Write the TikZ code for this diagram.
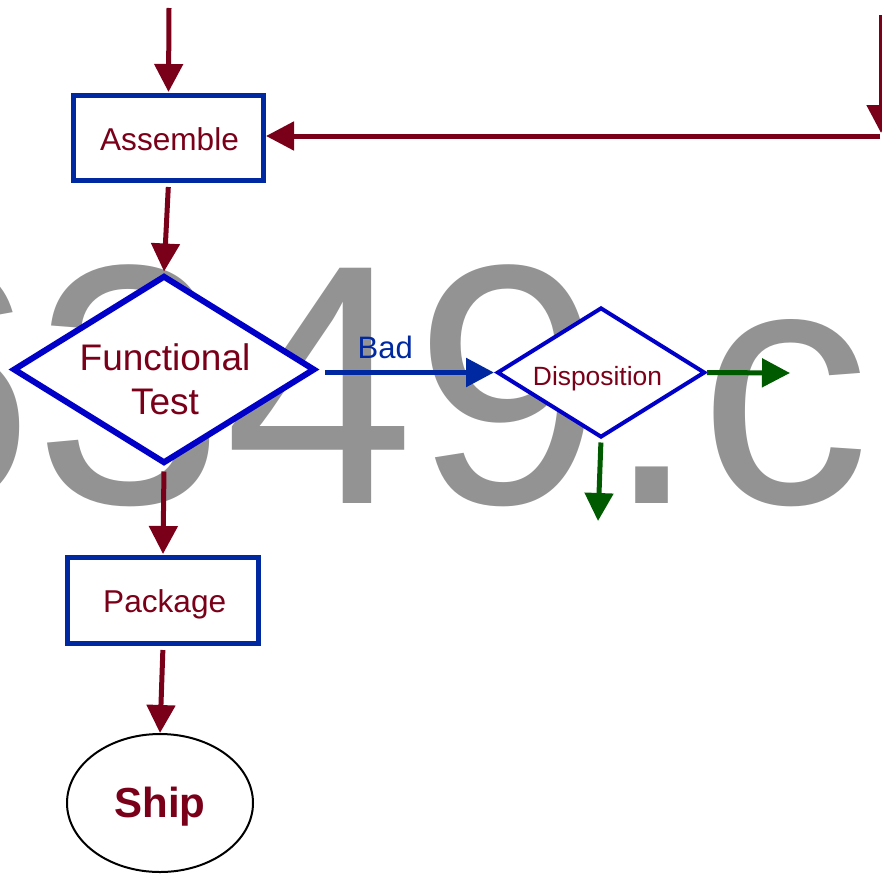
\documentclass[tikz,border=0pt]{standalone}
\usepackage{fontspec}
\setmainfont{Liberation Sans}
\usetikzlibrary{arrows.meta,shapes.geometric}
\definecolor{ink}{RGB}{122,0,26}
\definecolor{boxblue}{RGB}{0,40,160}
\definecolor{diablue}{RGB}{0,0,200}
\definecolor{okgreen}{RGB}{0,90,0}
\definecolor{wmgray}{RGB}{147,147,147}
\begin{document}
\begin{tikzpicture}[x=1pt,y=-1pt,
  box/.style={rectangle, draw=boxblue, line width=5pt, fill=white, inner sep=0pt},
  dia/.style={diamond, draw=diablue, fill=white, inner sep=0pt},
  lbl/.style={text=ink, inner sep=0pt, text depth=0pt},
  tip/.style={-{Triangle[length=28pt,width=28pt]}},
  flow/.style={draw=ink, line width=5pt, tip},
  gflow/.style={draw=okgreen, line width=5pt, tip},
  bflow/.style={draw=boxblue, line width=5.5pt, tip}]
\useasboundingbox (0,0) rectangle (882,875);

% watermark
\node[anchor=base west, inner sep=0pt, text=wmgray] (wm) at (-156,503)
  {\fontsize{342}{342}\selectfont 6349.c};

% shapes
\node[box, minimum width=190pt, minimum height=85pt] (asm) at (168.5,138) {};
\node[lbl, text height=22.7pt, font=\fontsize{31.6}{38}\selectfont] (asmt) at (169.5,138.7) {Assemble};

\node[dia, line width=6pt, minimum width=302pt, minimum height=188pt] (ft) at (164,369.5) {};
\node[text=ink, inner sep=0pt, align=center, font=\fontsize{37}{44}\selectfont] (ftt) at (165,379) {Functional\\Test};

\node[dia, line width=4pt, minimum width=208pt, minimum height=130pt] (disp) at (601,372.5) {};
\node[lbl, text height=19pt, font=\fontsize{26.4}{32}\selectfont] (dispt) at (597.5,375.5) {Disposition};

\node[box, minimum width=191pt, minimum height=86pt] (pkg) at (163,600.5) {};
\node[lbl, text height=22.7pt, font=\fontsize{31.6}{38}\selectfont] (pkgt) at (164.7,600.7) {Package};

\node[ellipse, draw=black, line width=2pt, fill=white, inner sep=0pt,
      minimum width=186pt, minimum height=138pt] (ship) at (160,803) {};
\node[lbl, text height=30.2pt, font=\fontsize{42}{50}\selectfont\bfseries] (shipt) at (160,802) {Ship};

% free ends
\coordinate (in1) at (169,8);
\coordinate (rv1) at (881,15);
\coordinate (rv2) at (881,133);
\coordinate (rh) at (880,136);
\coordinate (gr) at (790,373);
\coordinate (gd) at (598,521);

% connectors
\draw[flow, shorten >=1pt] (in1) -- (asm.north);
\draw[flow] (rv1) -- (rv2);
\draw[flow] (rh) -- (asm.east |- rh);
\draw[flow, shorten <=4pt, shorten >=1pt] (asm.south) -- (ft.north);
\draw[bflow, shorten <=7pt, shorten >=1pt] (ft.east |- disp.west) -- (disp.west)
  node[pos=0.38, anchor=base, yshift=14pt, text=boxblue, inner sep=0pt,
       font=\fontsize{31}{37}\selectfont] (bad) {Bad};
\draw[gflow] (disp.east) -- (gr);
\draw[gflow, shorten <=3pt] (disp.south) -- (gd);
\draw[flow, shorten <=5pt, shorten >=1pt] (ft.south) -- (pkg.north);
\draw[flow, shorten <=4pt] (pkg.south) -- (ship.north);
\end{tikzpicture}
\end{document}
